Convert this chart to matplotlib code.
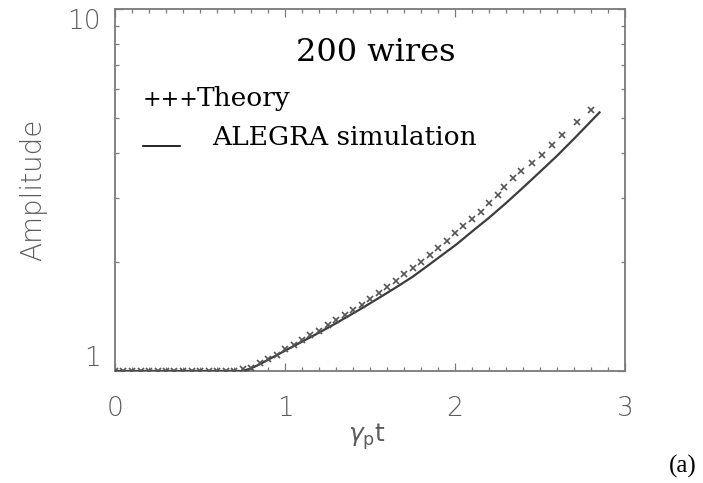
import matplotlib
matplotlib.use("Agg")
import matplotlib.pyplot as plt
from matplotlib.lines import Line2D
from matplotlib.ticker import FixedLocator, NullFormatter

# growth of the perturbation amplitude, 200-wire case
t_theory = [0.00, 0.05, 0.10, 0.15, 0.20, 0.25, 0.30, 0.35, 0.40, 0.45, 0.50,
            0.55, 0.60, 0.65, 0.70, 0.75, 0.80, 0.85, 0.90, 0.95, 1.00, 1.05,
            1.10, 1.15, 1.20, 1.25, 1.30, 1.35, 1.40, 1.45, 1.50, 1.55, 1.60,
            1.65, 1.70, 1.75, 1.80, 1.85, 1.90, 1.95, 2.00, 2.05, 2.10, 2.15,
            2.20, 2.25, 2.29, 2.34, 2.39, 2.45, 2.51, 2.57, 2.63, 2.72, 2.80]
amp_theory = [1.00, 1.00, 1.00, 1.00, 1.00, 1.00, 1.00, 1.00, 1.00, 1.00, 1.00,
              1.00, 1.00, 1.00, 1.00, 1.01, 1.02, 1.05, 1.08, 1.11, 1.15, 1.18,
              1.22, 1.26, 1.29, 1.34, 1.38, 1.43, 1.47, 1.52, 1.58, 1.64, 1.71,
              1.77, 1.85, 1.92, 2.00, 2.09, 2.19, 2.29, 2.40, 2.51, 2.63, 2.75,
              2.92, 3.07, 3.23, 3.41, 3.56, 3.76, 3.95, 4.21, 4.49, 4.86, 5.26]

t_sim = [0.00, 0.75, 0.80, 0.85, 0.90, 0.95, 1.00, 1.10, 1.20, 1.30, 1.44, 1.55,
         1.66, 1.75, 1.85, 2.01, 2.11, 2.20, 2.30, 2.40, 2.50, 2.60, 2.70, 2.78,
         2.85]
amp_sim = [1.00, 1.00, 1.017, 1.043, 1.074, 1.105, 1.138, 1.205, 1.276, 1.355,
           1.479, 1.589, 1.71, 1.82, 1.97, 2.24, 2.45, 2.65, 2.91, 3.21, 3.55,
           3.93, 4.38, 4.79, 5.18]

x_ticks = [0, 1, 2, 3]
y_ticks = [1, 10]
y_minor = [2, 3, 4, 5, 6, 7, 8, 9]

W, H = 703, 483
axis_grey = "#7a7a7a"
label_grey = "#5c5c5c"

fig = plt.figure(figsize=(W / 100, H / 100), dpi=100)
ax = fig.add_axes([115 / W, 1 - 371 / H, 510 / W, 362 / H])

ax.plot(t_sim, amp_sim, color="#3c3c3c", lw=1.6, zorder=3)
ax.plot(t_theory, amp_theory, ls="none", marker="x", ms=4.8, mew=1.2,
        color="#555555", zorder=4)

ax.set_yscale("log")
ax.set_xlim(0, 3)
ax.set_ylim(1, 10)

ax.xaxis.set_major_locator(FixedLocator(x_ticks))
ax.xaxis.set_minor_locator(FixedLocator([i / 10 for i in range(31)]))
ax.yaxis.set_major_locator(FixedLocator(y_ticks))
ax.yaxis.set_minor_locator(FixedLocator(y_minor))
ax.yaxis.set_minor_formatter(NullFormatter())
ax.set_xticklabels([str(v) for v in x_ticks])
ax.set_yticklabels([str(v) for v in y_ticks])

for s in ax.spines.values():
    s.set_color(axis_grey)
    s.set_linewidth(1.3)

ax.tick_params(which="both", direction="in", top=True, right=True,
               color=axis_grey, width=0.9)
ax.tick_params(which="major", length=5.5)
ax.tick_params(which="minor", length=3)
ax.tick_params(axis="x", which="major", pad=18, labelsize=19, labelcolor=label_grey)
ax.tick_params(axis="y", which="major", pad=10, labelsize=19, labelcolor=label_grey)
for lab in ax.get_xticklabels() + ax.get_yticklabels():
    lab.set_fontfamily("DejaVu Sans")
    lab.set_fontweight("light")

# the end labels of the y axis sit inside the axis range
ylabs = ax.get_yticklabels()
ylabs[0].set_va("bottom")
ylabs[1].set_va("top")


def fx(px):
    return px / W


def fy(py):
    return 1 - py / H


fig.text(fx(33), fy(190), "Amplitude", rotation=90, ha="center", va="center",
         color=label_grey, family="DejaVu Sans", weight="light", size=20)
fig.text(fx(367), fy(437), r"$\gamma_{\rm p}$t", ha="center", va="center",
         color=label_grey, family="DejaVu Sans", size=18)

fig.text(fx(376), fy(61), "200 wires", ha="center", va="baseline",
         family="DejaVu Serif", size=23, color="black")
fig.text(fx(143), fy(106), "+++", ha="left", va="baseline",
         family="DejaVu Serif", size=16, color="black")
fig.text(fx(197), fy(106), "Theory", ha="left", va="baseline",
         family="DejaVu Serif", size=19, color="black")
fig.add_artist(Line2D([fx(143), fx(180)], [fy(146), fy(146)], color="black",
                      lw=1.2))
fig.text(fx(212), fy(145), "ALEGRA simulation", ha="left", va="baseline",
         family="DejaVu Serif", size=19, color="black")
fig.text(fx(683), fy(466), "(a)", ha="center", va="center",
         family="Liberation Serif", size=18, color="black")

fig.savefig("out.png", dpi=100)
